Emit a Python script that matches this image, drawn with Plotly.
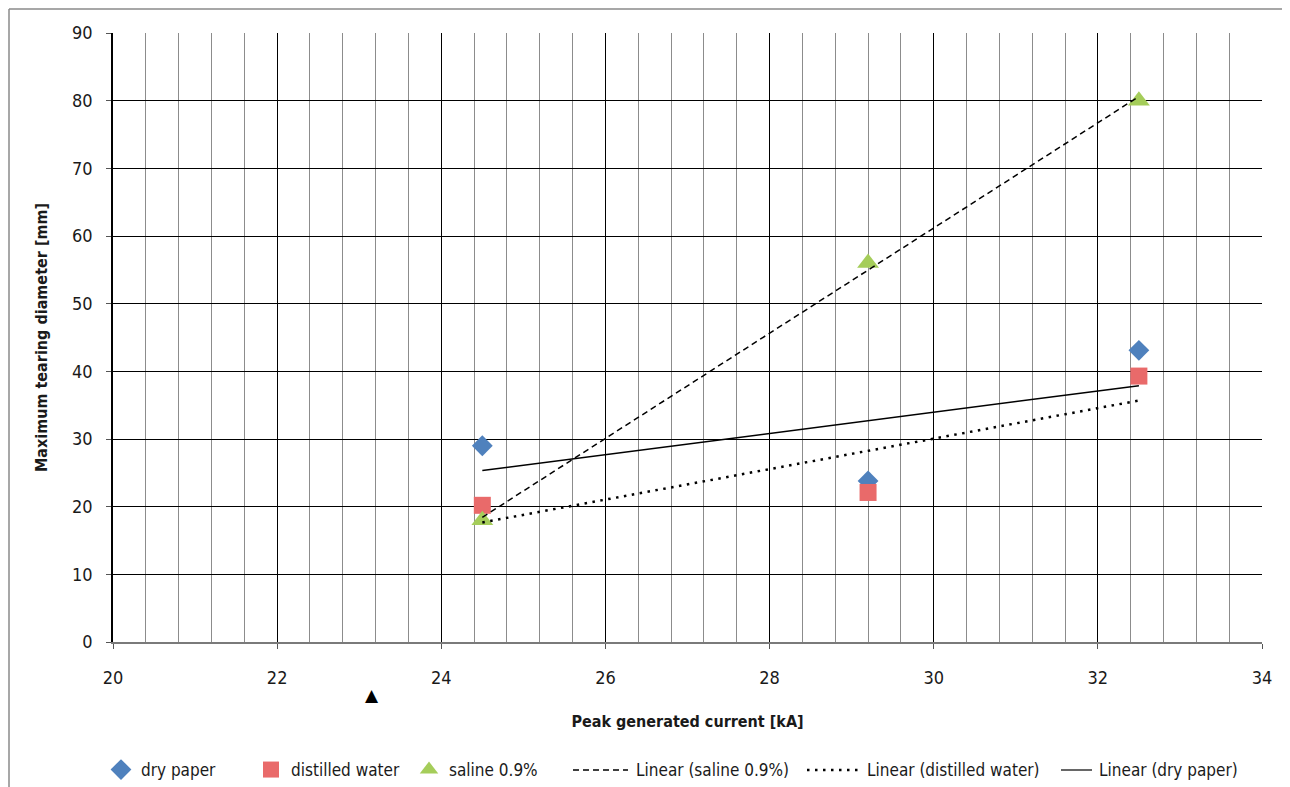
import numpy as np
import plotly.graph_objects as go

# Data
current_ka = [24.5, 29.2, 32.5]
dry_paper = [29.0, 23.8, 43.1]
distilled_water = [20.2, 22.1, 39.3]
saline = [18.0, 56.0, 80.0]

series_names = ["dry paper", "distilled water", "saline 0.9%"]
colors = {"dry paper": "#4F81BD", "distilled water": "#E96A6A", "saline 0.9%": "#A5CD5A"}
symbols = {"dry paper": "diamond", "distilled water": "square", "saline 0.9%": "triangle-up"}
sizes = {"dry paper": 16, "distilled water": 17, "saline 0.9%": 19}
values = {"dry paper": dry_paper, "distilled water": distilled_water, "saline 0.9%": saline}

FONT = "DejaVu Sans Condensed, Liberation Sans Narrow, sans-serif"

# page geometry (the page body has an 8px margin)
BODY = 8
FIG_W, FIG_H = 1282, 800
PL, PR, PT, PB = 113, 1262, 33, 642  # plot area in page pixels


def px2paper_x(px):
    return (px - PL) / (PR - PL)


def px2paper_y(py):
    return (PB - py) / (PB - PT)


fig = go.Figure()

legend_text_x = {
    "dry paper": 141, "distilled water": 291, "saline 0.9%": 449,
    "Linear (saline 0.9%)": 636, "Linear (distilled water)": 867, "Linear (dry paper)": 1099,
}
legend_ids = {}
for i, nm in enumerate(legend_text_x):
    legend_ids[nm] = "legend" if i == 0 else f"legend{i + 1}"

for name in series_names:
    fig.add_trace(go.Scatter(
        x=current_ka, y=values[name], mode="markers", name=name,
        marker=dict(symbol=symbols[name], size=sizes[name], color=colors[name], line=dict(width=0)),
        legend=legend_ids[name],
    ))

# Linear trendlines (least squares fit of each series)
trend_styles = [
    ("saline 0.9%", "6px,4px", 1.5, (573, 628)),
    ("distilled water", "2.5px,5.5px", 2.5, (807, 860)),
    ("dry paper", "solid", 1.5, (1061, 1092)),
]
xs = np.array([min(current_ka), max(current_ka)])
for name, dash, w, seg in trend_styles:
    k, b = np.polyfit(current_ka, values[name], 1)
    lname = f"Linear ({name})"
    fig.add_trace(go.Scatter(
        x=xs, y=k * xs + b, mode="lines", name=lname, showlegend=False,
        line=dict(color="black", width=w, dash=dash),
    ))
    # legend entry (its line sample is drawn separately, longer, as in the original)
    fig.add_trace(go.Scatter(
        x=[None], y=[None], mode="lines", name=lname, legend=legend_ids[lname],
        line=dict(color="rgba(0,0,0,0)", width=0),
    ))
    fig.add_shape(type="line", xref="paper", yref="paper",
                  x0=px2paper_x(seg[0]), x1=px2paper_x(seg[1]),
                  y0=px2paper_y(770), y1=px2paper_y(770),
                  line=dict(color="black", width=w if dash != "solid" else 1.2, dash=dash))

# outer chart border (top and left)
fig.add_shape(type="line", xref="paper", yref="paper", x0=px2paper_x(9), x1=px2paper_x(1300),
              y0=px2paper_y(9), y1=px2paper_y(9), line=dict(color="#8a8a8a", width=1.5))
fig.add_shape(type="line", xref="paper", yref="paper", x0=px2paper_x(9), x1=px2paper_x(9),
              y0=px2paper_y(9), y1=px2paper_y(820), line=dict(color="#8a8a8a", width=1.5))

# stray black triangle below the axis
fig.add_annotation(x=23.15, y=px2paper_y(695), xref="x", yref="paper", text="▲", showarrow=False,
                   yanchor="middle", font=dict(size=17, color="black", family="DejaVu Sans"))

legend_layout = {}
for nm, tx in legend_text_x.items():
    lid = legend_ids[nm]
    legend_layout[lid] = dict(
        orientation="h", x=px2paper_x(tx - 40), xanchor="left",
        y=px2paper_y(770), yanchor="middle",
        font=dict(size=17, family=FONT, color="#1a1a1a"), bgcolor="rgba(0,0,0,0)",
    )

fig.update_layout(
    width=FIG_W, height=FIG_H,
    margin=dict(l=PL - BODY, r=BODY + FIG_W - PR, t=PT - BODY, b=BODY + FIG_H - PB),
    paper_bgcolor="white", plot_bgcolor="white",
    font=dict(family=FONT, size=18, color="#1a1a1a"),
    showlegend=True,
    xaxis=dict(
        range=[20, 34], dtick=2, tick0=20,
        showgrid=True, gridcolor="black", gridwidth=1,
        minor=dict(dtick=0.4, tick0=20, showgrid=True, gridcolor="#8c8c8c", gridwidth=1),
        ticks="outside", ticklen=5, tickcolor="#555",
        showline=True, linecolor="#7a7a7a", linewidth=1.5, zeroline=False,
        ticklabelstandoff=14,
        title=dict(text="<b>Peak generated current [kA]</b>", font=dict(size=16, family=FONT), standoff=28),
        tickfont=dict(size=18),
    ),
    yaxis=dict(
        range=[0, 90], dtick=10,
        showgrid=True, gridcolor="black", gridwidth=1,
        ticks="outside", ticklen=5, tickcolor="#555",
        showline=True, linecolor="black", linewidth=1.5, zeroline=False,
        ticklabelstandoff=10,
        title=dict(text="<b>Maximum tearing diameter [mm]</b>", font=dict(size=16, family=FONT), standoff=20),
        tickfont=dict(size=18),
    ),
    **legend_layout,
)

fig.write_html("out.html")
